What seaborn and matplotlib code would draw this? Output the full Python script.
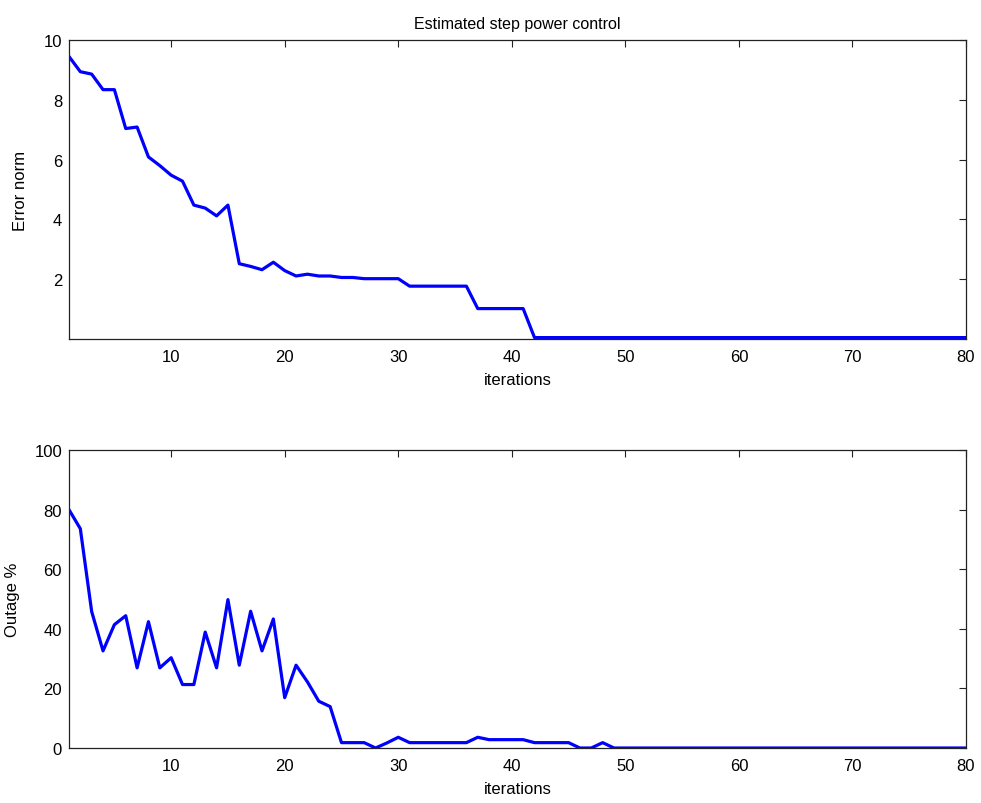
import numpy as np
import pandas as pd
import matplotlib
matplotlib.use("Agg")
import matplotlib.pyplot as plt
import seaborn as sns

iterations = list(range(1, 81))

error_norm = [9.45, 8.94, 8.86, 8.34, 8.34, 7.04, 7.09, 6.09, 5.80, 5.48,
              5.28, 4.48, 4.38, 4.12, 4.48, 2.52, 2.43, 2.32, 2.57, 2.29,
              2.11, 2.17, 2.11, 2.11, 2.06, 2.06, 2.02, 2.02, 2.02, 2.02,
              1.77, 1.77, 1.77, 1.77, 1.77, 1.77, 1.02, 1.02, 1.02, 1.02,
              1.02] + [0.05] * 39

outage = [80.0, 73.6, 45.8, 32.6, 41.4, 44.4, 26.9, 42.4, 26.9, 30.3,
          21.3, 21.3, 38.9, 26.9, 49.8, 27.8, 45.9, 32.6, 43.3, 16.9,
          27.8, 22.2, 15.7, 13.9, 1.8, 1.8, 1.8, 0.0, 1.7, 3.6,
          1.8, 1.8, 1.8, 1.8, 1.8, 1.8, 3.6, 2.8, 2.8, 2.8,
          2.8, 1.8, 1.8, 1.8, 1.8, 0.0, 0.0, 1.8, 0.0] + [0.0] * 31

title = "Estimated step power control"
xlabel = "iterations"
ylabel_top = "Error norm"
ylabel_bottom = "Outage %"

df = pd.DataFrame({"it": iterations, "err": error_norm, "out": outage})

sns.set_theme(style="white")
plt.rcParams['font.family'] = ['Liberation Sans', 'DejaVu Sans']
plt.rcParams['text.color'] = 'black'
plt.rcParams['axes.labelcolor'] = 'black'
plt.rcParams['xtick.color'] = 'black'
plt.rcParams['ytick.color'] = 'black'

fig = plt.figure(figsize=(9.81, 8.04), dpi=100)
ax1 = fig.add_axes([0.0703, 0.577, 0.9144, 0.372])
ax2 = fig.add_axes([0.0703, 0.0684, 0.9144, 0.3706])

sns.lineplot(data=df, x="it", y="err", ax=ax1, color=(0, 0, 1), lw=2.3)
sns.lineplot(data=df, x="it", y="out", ax=ax2, color=(0, 0, 1), lw=2.3)

fs = 12
for ax in (ax1, ax2):
    ax.set_xlim(1, 80)
    ax.set_xticks(range(10, 81, 10))
    ax.set_xlabel(xlabel, fontsize=fs, labelpad=6, color="black")
    ax.tick_params(direction="in", top=True, right=True, length=5,
                   width=0.8, color="#222222", labelcolor="black",
                   labelsize=fs)
    ax.tick_params(axis="x", pad=7)
    ax.tick_params(axis="y", pad=5)
    for s in ax.spines.values():
        s.set_color("#222222")
        s.set_linewidth(0.9)
        s.set_visible(True)

ax1.set_ylim(0, 10)
ax1.set_yticks([2, 4, 6, 8, 10])
ax1.set_ylabel(ylabel_top, fontsize=fs, labelpad=11, color="black")
ax1.set_title(title, fontsize=fs - 0.5, pad=9, color="black")

ax2.set_ylim(0, 100)
ax2.set_yticks(range(0, 101, 20))
ax2.set_ylabel(ylabel_bottom, fontsize=fs, labelpad=10, color="black")

fig.savefig("out.png", dpi=100, facecolor="white")
